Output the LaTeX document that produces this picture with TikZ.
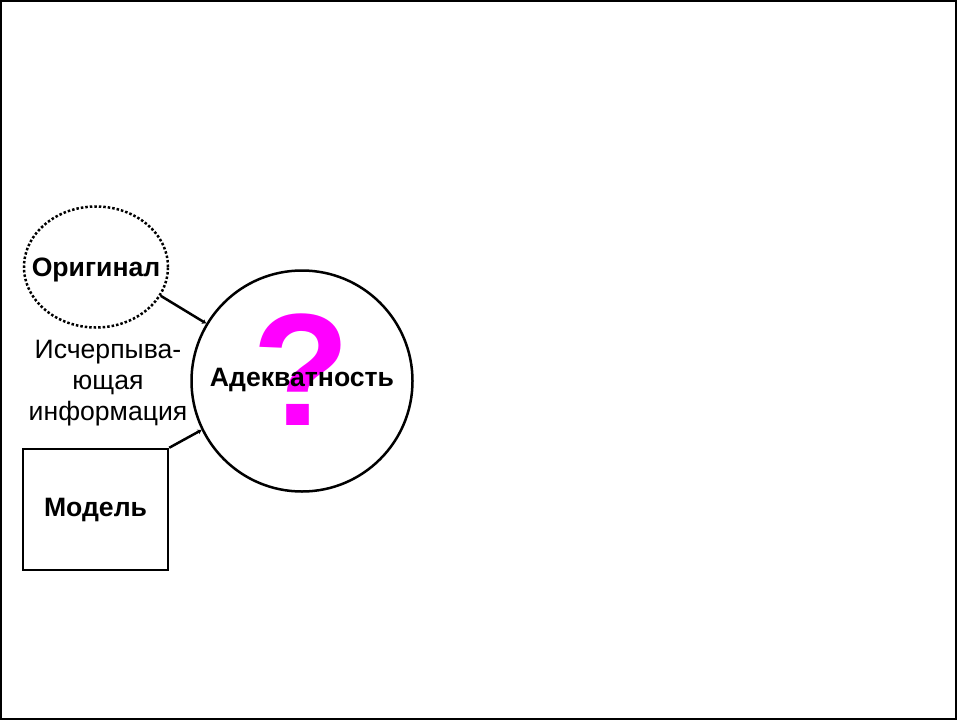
\documentclass[tikz,border=0pt]{standalone}
\usepackage{fontspec}
\setmainfont{Liberation Sans}
\usetikzlibrary{shapes.geometric,arrows.meta}
\definecolor{qmag}{RGB}{255,0,255}
\tikzset{
  lbl/.style={font=\fontsize{26.6}{31}\selectfont\bfseries},
  plain/.style={font=\fontsize{26.6}{31}\selectfont, align=center},
  conn/.style={line width=2.5pt, -{Stealth[length=4pt,width=5pt]}},
  shp/.style={draw, line width=2.5pt, inner sep=0pt}
}
\begin{document}
\begin{tikzpicture}[x=1pt,y=-1pt]
\useasboundingbox (0,0) rectangle (957,720);
\draw[line width=2pt] (1,1) rectangle (956,719);
\node[shp, ellipse, dotted, minimum width=144pt, minimum height=121pt] (orig) at (96,267) {};
\node[lbl] (origtext) at (96,270) {Оригинал};
\node[shp, circle, fill=white, minimum size=221pt] (adeq) at (302,381) {};
\node[text=qmag, font=\fontsize{160}{160}\selectfont\bfseries, anchor=base, inner sep=0pt] (q) at (301,425) {?};
\node[lbl] (adeqtext) at (302,380) {Адекватность};
\node[shp, rectangle, minimum width=145pt, minimum height=121pt, lbl] (model) at (95.5,509.5) {Модель};
\node[plain] (info) at (108,383) {Исчерпыва-\\ющая\\информация};
\draw[conn] (orig.-24) -- (adeq.149);
\draw[conn] (model.north east) -- (adeq.206);
\end{tikzpicture}
\end{document}
